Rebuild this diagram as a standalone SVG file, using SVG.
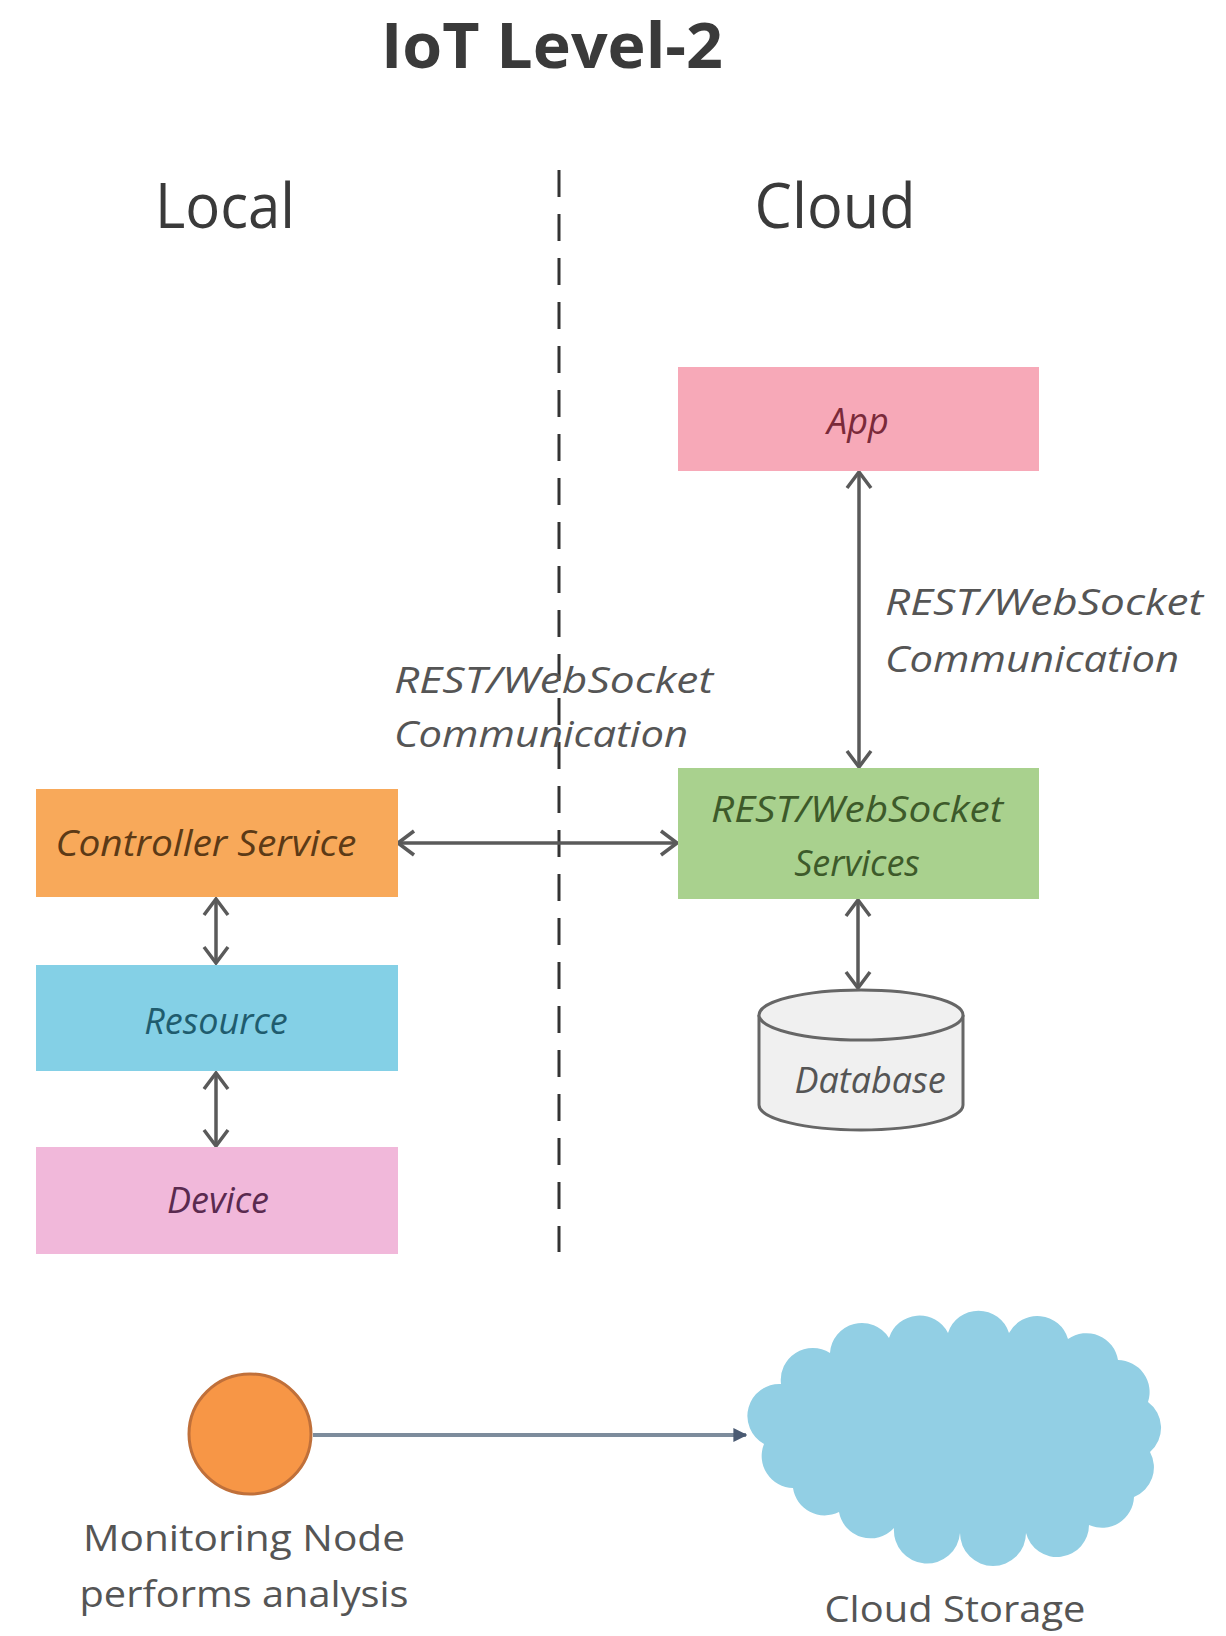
<svg xmlns="http://www.w3.org/2000/svg" width="1226" height="1636" viewBox="0 0 1226 1636">
<defs>
<style>
.hd{font-family:"Open Sans","Liberation Sans",sans-serif;fill:#3a3a3a;}
.lbl{font-family:"Open Sans","Liberation Sans",sans-serif;font-style:italic;font-size:36px;text-anchor:middle;}
.com{font-family:"Open Sans","Liberation Sans",sans-serif;font-style:italic;font-size:37px;fill:#555;}
.cap{font-family:"Open Sans","Liberation Sans",sans-serif;font-size:36px;fill:#555;text-anchor:middle;}
.conn{stroke:#5a5a5a;stroke-width:3.5;fill:none;marker-start:url(#chev);marker-end:url(#chev);}
</style>
<marker id="chev" viewBox="0 0 20 28" refX="18" refY="14" markerWidth="20" markerHeight="28" markerUnits="userSpaceOnUse" orient="auto-start-reverse">
<path d="M2,2 L18,14 L2,26" fill="none" stroke="#5a5a5a" stroke-width="3.5"/>
</marker>
<marker id="tri" viewBox="0 0 10 10" refX="9" refY="5" markerWidth="14" markerHeight="14" markerUnits="userSpaceOnUse" orient="auto">
<path d="M0,0 L10,5 L0,10 Z" fill="#4a5a72"/>
</marker>
</defs>
<rect width="1226" height="1636" fill="#ffffff"/>

<g id="headings">
<text class="hd" x="552" y="68" font-size="62" font-weight="bold" text-anchor="middle" textLength="342" lengthAdjust="spacingAndGlyphs">IoT Level-2</text>
<text class="hd" x="225" y="228" font-size="62" text-anchor="middle" textLength="140" lengthAdjust="spacingAndGlyphs">Local</text>
<text class="hd" x="835" y="228" font-size="62" text-anchor="middle" textLength="161" lengthAdjust="spacingAndGlyphs">Cloud</text>
</g>

<g id="divider">
<line x1="559" y1="170" x2="559" y2="1252" stroke="#333" stroke-width="3" stroke-dasharray="27 17"/>
</g>

<g id="connectors">
<line class="conn" x1="859" y1="472" x2="859" y2="767"/>
<line class="conn" x1="398" y1="843" x2="677" y2="843"/>
<line class="conn" x1="216" y1="899" x2="216" y2="963"/>
<line class="conn" x1="216" y1="1073" x2="216" y2="1146"/>
<line class="conn" x1="858" y1="900" x2="858" y2="988"/>
<line x1="313" y1="1435" x2="746" y2="1435" stroke="#7d8c9c" stroke-width="4" marker-end="url(#tri)"/>
</g>

<g id="label-comm-right">
<text class="com" x="885" y="615" textLength="318" lengthAdjust="spacingAndGlyphs">REST/WebSocket</text>
<text class="com" x="885" y="672" textLength="294" lengthAdjust="spacingAndGlyphs">Communication</text>
</g>
<g id="label-comm-left">
<text class="com" x="394" y="693" textLength="319" lengthAdjust="spacingAndGlyphs">REST/WebSocket</text>
<text class="com" x="394" y="747" textLength="294" lengthAdjust="spacingAndGlyphs">Communication</text>
</g>

<g id="app">
<rect x="678" y="367" width="361" height="104" fill="#f7a9b8"/>
<text class="lbl" x="858" y="434" fill="#7a2a3a">App</text>
</g>

<g id="rest-services">
<rect x="678" y="768" width="361" height="131" fill="#a9d18e"/>
<text class="lbl" x="857" y="822" fill="#3d5a2a" textLength="292" lengthAdjust="spacingAndGlyphs">REST/WebSocket</text>
<text class="lbl" x="857" y="876" fill="#3d5a2a">Services</text>
</g>

<g id="database">
<path d="M759,1015 L759,1105 A102,25 0 0 0 963,1105 L963,1015" fill="#f0f0f0" stroke="#666" stroke-width="3"/>
<ellipse cx="861" cy="1015" rx="102" ry="25" fill="#f0f0f0" stroke="#666" stroke-width="3"/>
<text class="lbl" x="870" y="1093" fill="#555">Database</text>
</g>

<g id="controller-service">
<rect x="36" y="789" width="362" height="108" fill="#f8a95a"/>
<text class="lbl" x="206" y="856" fill="#5c3a16" textLength="301" lengthAdjust="spacingAndGlyphs">Controller Service</text>
</g>

<g id="resource">
<rect x="36" y="965" width="362" height="106" fill="#84d0e6"/>
<text class="lbl" x="216" y="1034" fill="#1f5c6e">Resource</text>
</g>

<g id="device">
<rect x="36" y="1147" width="362" height="107" fill="#f1b8da"/>
<text class="lbl" x="218" y="1213" fill="#5a2a4f">Device</text>
</g>

<g id="monitoring-node">
<ellipse cx="250" cy="1434" rx="61" ry="60" fill="#f79646" stroke="#c0703a" stroke-width="3"/>
<text class="cap" x="244" y="1551" textLength="322" lengthAdjust="spacingAndGlyphs">Monitoring Node</text>
<text class="cap" x="244" y="1607" textLength="329" lengthAdjust="spacingAndGlyphs">performs analysis</text>
</g>

<g id="cloud-storage">
<path d="M764,1444 A32,32 0 0 1 781,1384 A32,32 0 0 1 830,1353 A32,32 0 0 1 889,1338 A32,32 0 0 1 948,1333 A32,32 0 0 1 1009,1333 A32,32 0 0 1 1068,1339 A32,32 0 0 1 1118,1360 A32,32 0 0 1 1148,1402 A32,32 0 0 1 1150,1452 A32,32 0 0 1 1134,1497 A32,32 0 0 1 1089,1525 A32,32 0 0 1 1026,1533 A32,32 0 0 1 960,1533 A32,32 0 0 1 894,1528 A32,32 0 0 1 839,1512 A32,32 0 0 1 793,1488 A32,32 0 0 1 764,1444 Z" fill="#92cfe4"/>
<text class="cap" x="955" y="1622" textLength="261" lengthAdjust="spacingAndGlyphs">Cloud Storage</text>
</g>
</svg>
